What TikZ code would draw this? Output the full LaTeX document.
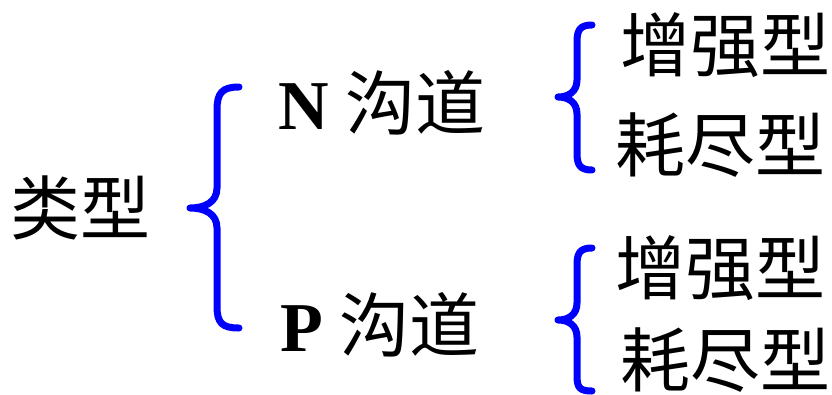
\documentclass[tikz,border=0pt]{standalone}
\usepackage{fontspec}
\setmainfont{Liberation Serif}
\newfontfamily\cjk{Noto Sans CJK SC}
\tikzset{
  lbl/.style={inner sep=0pt, anchor=center, font=\fontsize{70}{72}\selectfont\cjk},
  brace/.style={draw=blue, line width=7pt, line cap=round, line join=round}
}
\begin{document}
\begin{tikzpicture}[x=1pt,y=-1pt]
\useasboundingbox (0,0) rectangle (832,394);
\node[lbl] (type) at (80,208) {类型};
\node[lbl] (nch) at (382,103) {{\fontsize{70}{72}\selectfont\bfseries\rmfamily N} 沟道};
\node[lbl] (pch) at (380,325) {{\fontsize{70}{72}\selectfont\bfseries\rmfamily P} 沟道};
\node[lbl] (ne) at (725,45) {增强型};
\node[lbl] (nd) at (720,145) {耗尽型};
\node[lbl] (pe) at (720,268) {增强型};
\node[lbl] (pd) at (725,360) {耗尽型};
% left brace
\path[brace] (239,87) .. controls (222,87) and (217,93) .. (217,110) -- (217,188)
  .. controls (217,202) and (205,208) .. (190,208)
  .. controls (205,208) and (217,214) .. (217,228) -- (217,306)
  .. controls (217,323) and (222,328) .. (239,328);
% upper right brace
\path[brace] (592,25) .. controls (580,25) and (577,30) .. (577,42) -- (577,80)
  .. controls (577,92) and (568,97) .. (558,97)
  .. controls (568,97) and (577,102) .. (577,114) -- (577,153)
  .. controls (577,165) and (580,170) .. (592,170);
% lower right brace
\path[brace] (592,248) .. controls (580,248) and (577,253) .. (577,265) -- (577,303)
  .. controls (577,315) and (568,320) .. (558,320)
  .. controls (568,320) and (577,325) .. (577,337) -- (577,376)
  .. controls (577,388) and (580,391) .. (592,391);
\end{tikzpicture}
\end{document}
